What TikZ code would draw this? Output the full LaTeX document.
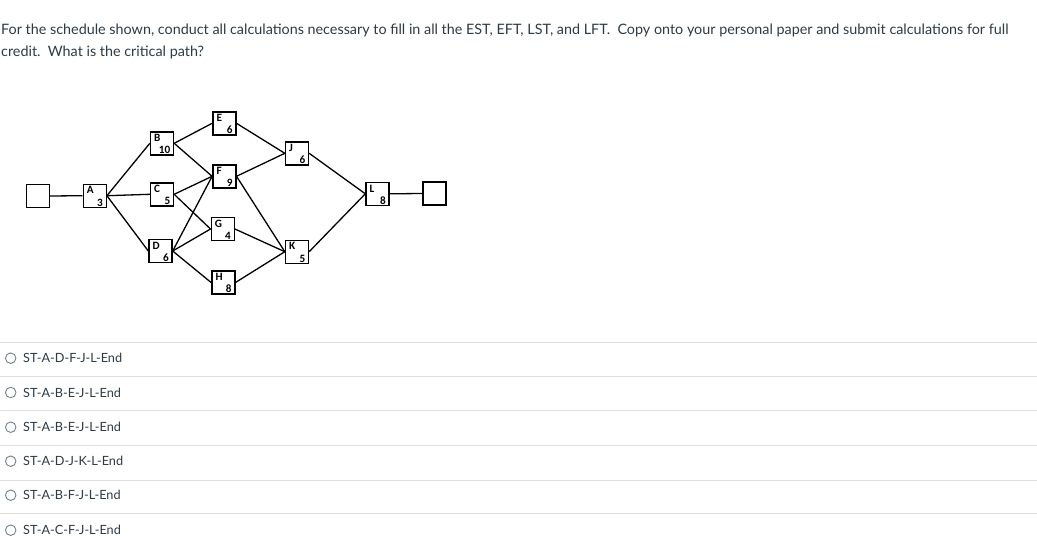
\documentclass[tikz,border=0pt]{standalone}
\usepackage{fontspec}
\setmainfont{Lato}
\newfontfamily\boxfont{Carlito}
\definecolor{txt}{HTML}{2D3B45}
\definecolor{sepc}{HTML}{DDDDDD}
\definecolor{radioc}{HTML}{73818A}
\begin{document}
\begin{tikzpicture}[x=1pt,y=-1pt,
  actbox/.style={draw=black, line width=1.4pt, minimum size=23pt, inner sep=0pt, fill=white},
  lett/.style={font=\boxfont\bfseries\fontsize{11.2}{11.2}\selectfont, inner xsep=4.2pt, inner ysep=3pt, anchor=north west},
  dur/.style={font=\boxfont\bfseries\fontsize{11.2}{11.2}\selectfont, inner xsep=3.8pt, inner ysep=1.5pt, anchor=south east},
  link/.style={draw=black, line width=1.3pt},
  qtext/.style={font=\fontsize{14.35}{17}\selectfont, text=txt, anchor=base west, inner sep=0pt},
  opt/.style={font=\fontsize{12.7}{15}\selectfont, text=txt, anchor=base west, inner sep=0pt},
  radio/.style={draw=radioc, line width=0.9pt, circle, minimum size=10.5pt, inner sep=0pt},
  sepline/.style={draw=sepc, line width=0.8pt}
]
\useasboundingbox (0,0) rectangle (1037,557);
\fill[white] (0,0) rectangle (1037,557);

% question
\node[qtext] (q1) at (1,34.5) {For the schedule shown, conduct all calculations necessary to fill in all the EST, EFT, LST, and LFT.\ \ Copy onto your personal paper and submit calculations for full};
\node[qtext] (q2) at (1,56) {credit.\ \ What is the critical path?};

% activity boxes
\node[actbox] (ST) at (37.7,196) {};
\node[actbox] (A) at (94.7,195.7) {};
\node[actbox] (B) at (162,143.3) {};
\node[actbox] (C) at (162,194.3) {};
\node[actbox] (D) at (160.5,251) {};
\node[actbox] (E) at (224.3,123.3) {};
\node[actbox] (F) at (224.3,176.3) {};
\node[actbox] (G) at (222.7,229) {};
\node[actbox] (H) at (223.3,282.5) {};
\node[actbox] (J) at (297,153.3) {};
\node[actbox] (K) at (297,251.7) {};
\node[actbox] (L) at (377.5,193.8) {};
\node[actbox] (EN) at (434.3,193.5) {};

% labels
\foreach \n/\l/\d in {A/A/3, B/B/10, C/C/5, D/D/6, E/E/6, F/F/9, G/G/4, H/H/8, J/J/6, K/K/5, L/L/8}{
  \node[lett] (\n l) at (\n.north west) {\l};
  \node[dur] (\n d) at (\n.south east) {\d};
}

% connectors
\draw[link] (ST.east) -- (A.west);
\draw[link] (A.east) -- (B.west);
\draw[link] (A.east) -- (C.west);
\draw[link] (A.east) -- (D.west);
\draw[link] (B.east) -- (E.west);
\draw[link] (B.east) -- (F.west);
\draw[link] (C.east) -- (F.west);
\draw[link] (C.east) -- (G.west);
\draw[link] (D.east) -- (F.west);
\draw[link] (D.east) -- (G.west);
\draw[link] (D.east) -- (H.west);
\draw[link] (E.east) -- (J.west);
\draw[link] (F.east) -- (J.west);
\draw[link] (F.east) -- (K.west);
\draw[link] (G.east) -- (K.west);
\draw[link] (H.east) -- (K.west);
\draw[link] (J.east) -- (L.west);
\draw[link] (K.east) -- (L.west);
\draw[link] (L.east) -- (EN.west);

% options
\foreach \y in {342.7,376.7,410.7,445.7,480,513.3}{
  \draw[sepline] (0,\y) -- (1037,\y);
}
\foreach \i/\y/\t in {1/362.7/ST-A-D-F-J-L-End, 2/397/ST-A-B-E-J-L-End, 3/431.7/ST-A-B-E-J-L-End, 4/465.7/ST-A-D-J-K-L-End, 5/499.7/ST-A-B-F-J-L-End, 6/534.7/ST-A-C-F-J-L-End}{
  \node[radio] (r\i) at (10.7,\y-4.5) {};
  \node[opt] (o\i) at (23,\y) {\t};
}
\end{tikzpicture}
\end{document}
